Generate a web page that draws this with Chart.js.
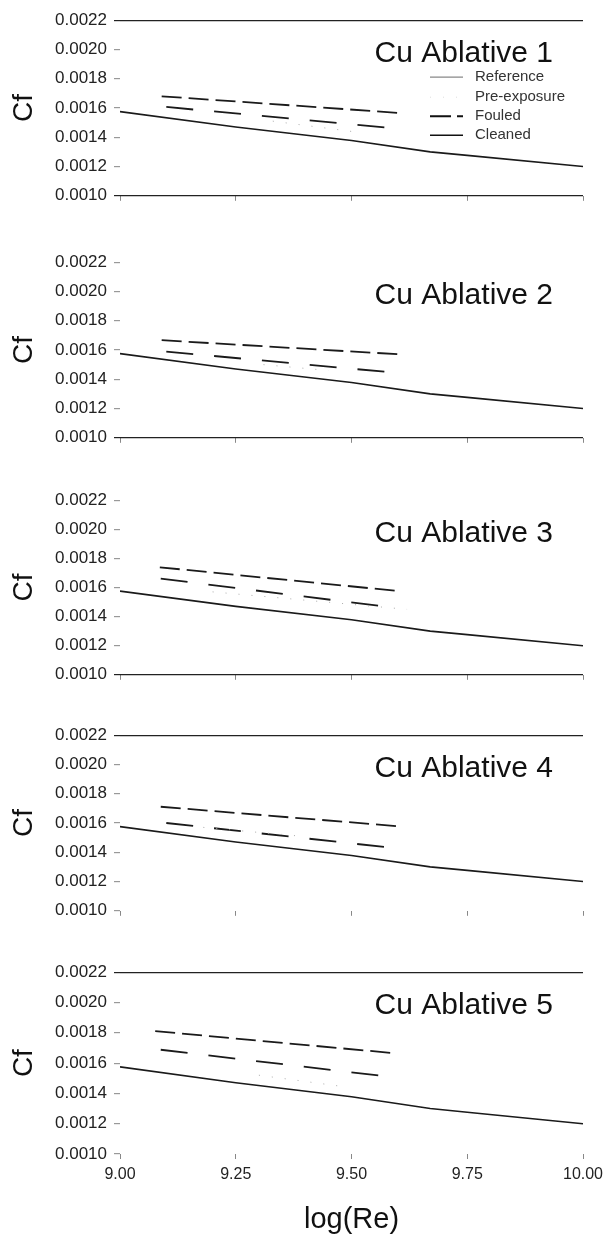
<!DOCTYPE html>
<html>
<head>
<meta charset="utf-8">
<script src="https://cdn.jsdelivr.net/npm/chart.js@4.4.1/dist/chart.umd.min.js"></script>
<style>
  html, body { margin: 0; padding: 0; background: #fff; }
  body { width: 610px; height: 1239px; position: relative; overflow: hidden; }
  .panel { position: absolute; left: 0; width: 610px; }
</style>
</head>
<body>
<div id="p0" class="panel"><canvas id="c0"></canvas></div>
<div id="p1" class="panel"><canvas id="c1"></canvas></div>
<div id="p2" class="panel"><canvas id="c2"></canvas></div>
<div id="p3" class="panel"><canvas id="c3"></canvas></div>
<div id="p4" class="panel"><canvas id="c4"></canvas></div>
<script>
// ---- data ----
const panelNames = ['Cu Ablative 1', 'Cu Ablative 2', 'Cu Ablative 3', 'Cu Ablative 4', 'Cu Ablative 5'];
const seriesNames = ['Reference', 'Pre-exposure', 'Fouled', 'Cleaned'];

const xTicks = [9.0, 9.25, 9.5, 9.75, 10.0];
const yTicks = [0.0010, 0.0012, 0.0014, 0.0016, 0.0018, 0.0020, 0.0022];

// reference curve, same in every panel
const refX = [9.0, 9.25, 9.5, 9.67, 9.75, 10.0];
const refCf = [0.001575, 0.00147, 0.001378, 0.0013, 0.001276, 0.0012];

// one pair of end points per panel
const fouledX = [[9.09, 9.60], [9.09, 9.60], [9.086, 9.60], [9.088, 9.60], [9.076, 9.594]];
const fouledCf = [[0.00168, 0.001567], [0.001667, 0.001571], [0.001739, 0.001576], [0.001711, 0.001578], [0.001811, 0.001665]];

const cleanedX = [[9.10, 9.58], [9.10, 9.58], [9.088, 9.57], [9.10, 9.58], [9.088, 9.57]];
const cleanedCf = [[0.001607, 0.001465], [0.001589, 0.001449], [0.001661, 0.00147], [0.0016, 0.001433], [0.001688, 0.001514]];

const preX = [[9.33, 9.5], [9.31, 9.45], [9.2, 9.62], [9.18, 9.39], [9.3, 9.47]];
const preCf = [[0.00151, 0.00144], [0.0015, 0.00146], [0.00157, 0.00145], [0.00157, 0.00151], [0.00152, 0.00145]];

// which panels have the frame line at top / bottom
const topLine = [true, false, false, true, true];
const bottomLine = [true, true, true, false, false];

// ---- layout ----
const panelTop = [18, 260, 498, 733, 970];
const panelBottom = [203, 445, 682, 918, 1154];
const FONT = "'Liberation Sans', Arial, sans-serif";

function pts(xs, ys) {
  return xs.map((x, k) => ({ x: x, y: ys[k] }));
}

// panel title and the little legend drawn inside the plot
const panelText = {
  id: 'panelText',
  afterDraw(chart, args, opts) {
    const ctx = chart.ctx;
    const area = chart.chartArea;
    ctx.save();
    ctx.fillStyle = '#111';
    ctx.font = '30px ' + FONT;
    ctx.textAlign = 'right';
    ctx.textBaseline = 'alphabetic';
    ctx.fillText(opts.title, area.right - 30, area.top + 42);

    if (opts.legend) {
      const rows = [57, 77, 96, 115];
      const samples = [
        { color: '#888', dash: [], width: 1.2 },
        { color: '#ddd', dash: [1, 12], width: 1 },
        { color: '#111', dash: [21, 6], width: 2 },
        { color: '#111', dash: [], width: 1.4 }
      ];
      ctx.font = '15px ' + FONT;
      ctx.textAlign = 'left';
      ctx.textBaseline = 'middle';
      seriesNames.forEach((name, k) => {
        const y = area.top + rows[k];
        const s = samples[k];
        ctx.beginPath();
        ctx.setLineDash(s.dash);
        ctx.strokeStyle = s.color;
        ctx.lineWidth = s.width;
        ctx.moveTo(430, y);
        ctx.lineTo(463, y);
        ctx.stroke();
        ctx.setLineDash([]);
        ctx.fillStyle = '#333';
        ctx.fillText(name, 475, y);
      });
    }
    ctx.restore();
  }
};

function isVal(v, target) {
  return Math.abs(v - target) < 1e-9;
}

function makePanel(i) {
  const last = i === 4;
  const padTop = 15;
  const xh = last ? 85 : 10;
  const wrap = document.getElementById('p' + i);
  wrap.style.top = (panelTop[i] - padTop) + 'px';
  wrap.style.height = (panelBottom[i] - panelTop[i] + padTop + xh) + 'px';

  const edge = (ctx) => {
    if (!ctx.tick) return 'transparent';
    if (topLine[i] && isVal(ctx.tick.value, 0.0022)) return '#222';
    if (bottomLine[i] && isVal(ctx.tick.value, 0.0010)) return '#222';
    return 'transparent';
  };
  const edgeTick = (ctx) => {
    const c = edge(ctx);
    return c === 'transparent' ? '#999' : c;
  };

  new Chart(document.getElementById('c' + i), {
    type: 'line',
    data: {
      datasets: [
        {
          label: seriesNames[0],
          data: pts(refX, refCf),
          borderColor: '#1a1a1a',
          borderWidth: 1.6,
          pointRadius: 0,
          tension: 0
        },
        {
          label: seriesNames[1],
          data: pts(preX[i], preCf[i]),
          borderColor: '#aaa',
          borderWidth: 1,
          borderDash: [1, 12],
          pointRadius: 0
        },
        {
          label: seriesNames[2],
          data: pts(fouledX[i], fouledCf[i]),
          borderColor: '#1a1a1a',
          borderWidth: 1.8,
          borderDash: [20, 7],
          pointRadius: 0
        },
        {
          label: seriesNames[3],
          data: pts(cleanedX[i], cleanedCf[i]),
          borderColor: '#1a1a1a',
          borderWidth: 1.8,
          borderDash: [27, 21],
          pointRadius: 0
        }
      ]
    },
    options: {
      responsive: true,
      maintainAspectRatio: false,
      animation: false,
      layout: { padding: { top: padTop, right: 27, left: 0, bottom: 0 } },
      plugins: {
        legend: { display: false },
        tooltip: { enabled: false },
        panelText: { title: panelNames[i], legend: i === 0 }
      },
      scales: {
        x: {
          type: 'linear',
          min: 9,
          max: 10,
          afterBuildTicks: s => { s.ticks = xTicks.map(v => ({ value: v })); },
          afterFit: s => { s.height = xh; },
          ticks: {
            display: last,
            autoSkip: false,
            maxRotation: 0,
            padding: 6,
            color: '#222',
            font: { family: FONT, size: 16 },
            callback: v => Number(v).toFixed(2)
          },
          grid: { drawOnChartArea: false, tickLength: 5, tickColor: '#888' },
          border: { display: false },
          title: {
            display: last,
            text: 'log(Re)',
            color: '#111',
            font: { family: FONT, size: 29 },
            padding: { top: 0, bottom: 2 }
          }
        },
        y: {
          min: 0.0010,
          max: 0.0022,
          afterBuildTicks: s => { s.ticks = yTicks.map(v => ({ value: v })); },
          afterFit: s => { s.width = 120; },
          ticks: {
            padding: 7,
            color: '#222',
            font: { family: FONT, size: 17 },
            callback: v => Number(v).toFixed(4)
          },
          grid: { color: edge, tickColor: edgeTick, tickLength: 6, lineWidth: 1.2 },
          border: { display: false },
          title: {
            display: true,
            text: 'Cf',
            color: '#111',
            font: { family: FONT, size: 28 },
            padding: { top: 7, bottom: 0 }
          }
        }
      }
    },
    plugins: [panelText]
  });
}

for (let i = 0; i < 5; i++) makePanel(i);
</script>
</body>
</html>
